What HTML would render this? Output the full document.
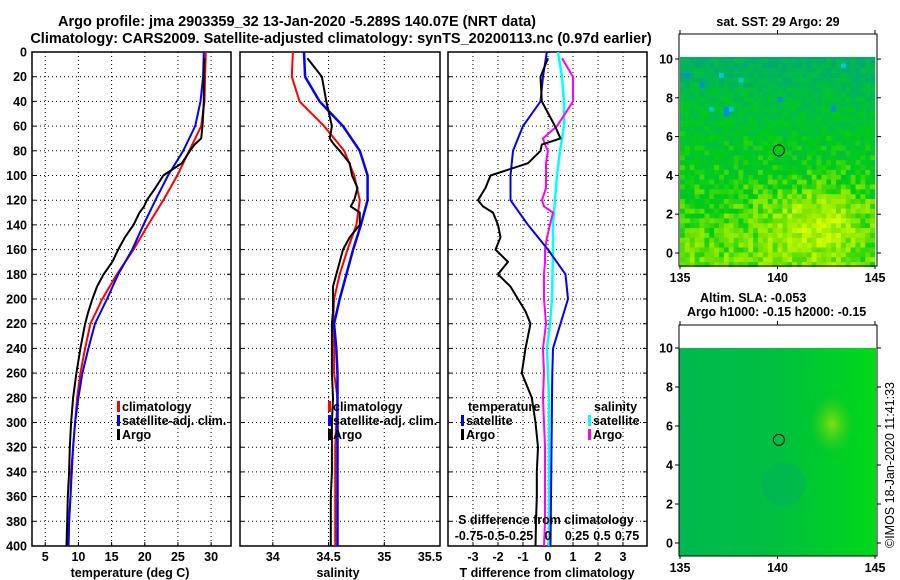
<!DOCTYPE html>
<html><head><meta charset="utf-8">
<style>
html,body{margin:0;padding:0;background:#fff;}
svg{display:block;font-family:"Liberation Sans",Arial,sans-serif;font-weight:bold;}
</style></head>
<body>
<svg id="chart" width="900" height="580" viewBox="0 0 900 580" xmlns="http://www.w3.org/2000/svg">
<text x="297" y="26" font-size="14.5" text-anchor="middle">Argo profile: jma 2903359_32 13-Jan-2020 -5.289S 140.07E (NRT data)</text>
<text x="341" y="43" font-size="14.5" text-anchor="middle">Climatology: CARS2009. Satellite-adjusted climatology: synTS_20200113.nc (0.97d earlier)</text>
<g id="panels"></g>
<g id="maps"></g>
<text font-size="12.5" font-weight="normal" transform="translate(894,465) rotate(-90)" text-anchor="middle">©IMOS 18-Jan-2020 11:41:33</text>
</svg>
<script>
// ---------- data ----------
const stdDepths = [0,20,40,60,80,100,120,140,160,180,200,220,240,260,280,300,320,340,360,380,400];
const tempClim = [29.2,29.1,29.0,28.5,26.7,24.9,22.8,20.5,18.3,15.8,13.6,11.8,11.0,10.3,9.8,9.5,9.2,8.9,8.8,8.6,8.5];
const tempSat  = [28.9,28.8,28.4,27.6,25.8,23.5,21.6,19.8,18.1,16.0,14.3,12.5,11.5,10.6,10.0,9.5,9.2,9.0,8.8,8.6,8.5];
const argoDepths = [5,20,40,60,70,75,80,90,100,110,120,125,130,140,150,160,170,180,190,200,210,220,240,260,280,300,320,340,360,380,400];
const tempArgo = [29.0,28.9,28.9,28.7,28.5,27.5,26.8,25.6,22.8,21.6,20.3,19.9,19.2,18.3,17.0,16.0,15.1,13.8,12.8,12.1,11.5,11.0,10.3,9.7,9.2,8.9,8.7,8.6,8.4,8.3,8.2];
const salClim = [34.18,34.17,34.24,34.46,34.64,34.73,34.78,34.75,34.67,34.60,34.55,34.54,34.55,34.55,34.58,34.57,34.56,34.56,34.56,34.56,34.56];
const salSat  = [34.28,34.29,34.42,34.63,34.78,34.85,34.85,34.79,34.72,34.66,34.60,34.55,34.57,34.58,34.58,34.58,34.58,34.58,34.58,34.58,34.58];
const salArgo = [34.31,34.44,34.48,34.53,34.51,34.55,34.60,34.69,34.71,34.76,34.73,34.70,34.78,34.78,34.69,34.63,34.60,34.57,34.54,34.54,34.54,34.53,34.53,34.53,34.54,34.53,34.53,34.53,34.52,34.52,34.52];
const tdiffArgo = [-0.0,-0.3,-0.25,0.28,0.5,-0.25,-0.3,-0.8,-2.3,-2.5,-2.8,-2.6,-2.2,-2.0,-1.9,-2.1,-1.6,-2.0,-1.5,-1.2,-0.9,-0.7,-0.9,-1.05,-0.65,-0.5,-0.4,-0.45,-0.45,-0.48,-0.5];
const tdiffSat = [-0.05,-0.2,-0.3,-1.0,-1.4,-1.5,-1.5,-0.8,0.0,0.7,0.8,0.5,0.2,0.17,0.16,0.15,0.14,0.13,0.12,0.11,0.1];
const sdiffSat = [0.10,0.14,0.16,0.16,0.12,0.09,0.07,0.05,0.05,0.045,0.04,0.02,-0.01,0.0,0.01,0.01,0.01,0.01,0.01,0.01,0.01];
const sdiffArgo = [0.14,0.25,0.25,0.09,-0.05,-0.03,0.0,-0.02,-0.02,-0.02,-0.06,-0.04,0.05,0.02,-0.01,-0.03,-0.03,-0.04,-0.04,-0.04,-0.03,-0.02,-0.05,-0.04,-0.05,-0.04,-0.03,-0.03,-0.03,-0.03,-0.04];
const depthTicks = [0,20,40,60,80,100,120,140,160,180,200,220,240,260,280,300,320,340,360,380,400];
const tempTicks = [5,10,15,20,25,30];
const salTicks = ["34","34.5","35","35.5"];
const tdTicks = [-3,-2,-1,0,1,2,3];
const sdTickLabels = ["-0.75","-0.5","-0.25","0","0.25","0.5","0.75"];
const latTicks = [0,2,4,6,8,10];
const lonTicks = [135,140,145];

const NS="http://www.w3.org/2000/svg";
function mk(tag,attrs,parent,txt){const e=document.createElementNS(NS,tag);for(const k in attrs)e.setAttribute(k,attrs[k]);if(txt!==undefined)e.textContent=txt;parent.appendChild(e);return e;}
const panels=document.getElementById('panels');
const yTop=52,yBot=546;
const yD=d=>yTop+(d/400)*(yBot-yTop);

function panel(name,x0,x1,v0,v1){
  const g=mk('g',{},panels);
  
  
  const sx=v=>x0+(v-v0)/(v1-v0)*(x1-x0);
  return {g,sx,x0,x1};
}
function frame(p,gridX){
  depthTicks.forEach(d=>{
    if(d>0&&d<400){const l=mk('line',{x1:p.x0,x2:p.x1,y1:yD(d),y2:yD(d),stroke:'#000','stroke-dasharray':'1,3','stroke-width':1},p.g);
    }
    mk('line',{x1:p.x1-4,x2:p.x1,y1:yD(d),y2:yD(d),stroke:'#000'},p.g);
    mk('line',{x1:p.x0,x2:p.x0+4,y1:yD(d),y2:yD(d),stroke:'#000'},p.g);
  });
  gridX.forEach(x=>{const l=mk('line',{x1:x,x2:x,y1:yTop,y2:yBot,stroke:'#000','stroke-dasharray':'1,3'},p.g);
    
    mk('line',{x1:x,x2:x,y1:yBot-4,y2:yBot,stroke:'#000'},p.g);});
  const r=mk('rect',{x:p.x0,y:yTop,width:p.x1-p.x0,height:yBot-yTop,fill:'none',stroke:'#000','stroke-width':1.5},p.g);
  
}
function line(p,vals,depths,color,w,name,sx){
  const f=sx||p.sx;
  const pts=vals.map((v,i)=>f(v).toFixed(1)+','+yD(depths[i]).toFixed(1)).join(' ');
  const l=mk('polyline',{points:pts,fill:'none',stroke:color,'stroke-width':w,'stroke-linejoin':'round'},p.g);
  
}
function label(p,x,y,t,size,anchor,name){
  const e=mk('text',{x:x,y:y,'font-size':size||12,'text-anchor':anchor||'middle'},p.g,t);
  return e;
}
function legend(p,x,y,color,t){
  const r=mk('rect',{x:x,y:y-10,width:3,height:11,fill:color},p.g);
  
  label(p,x+5,y,t,12.5,'start','legend-entry');
}

// depth axis labels
const ya=mk('g',{},panels);


depthTicks.forEach(d=>{const t=mk('text',{x:27,y:yD(d)+4.5,'font-size':12.5,'text-anchor':'end'},ya,String(d));
  });

// panel 1 temperature
const p1=panel('temperature-panel',32,231,3,33);
frame(p1,tempTicks.map(v=>p1.sx(v)));
line(p1,tempClim,stdDepths,'#f00',2,'temp-climatology-line');
line(p1,tempSat,stdDepths,'#00f',2,'temp-satellite-line');
line(p1,tempArgo,argoDepths,'#000',2,'temp-argo-line');
tempTicks.forEach(v=>label(p1,p1.sx(v),561,String(v),12.5,'middle','temp-tick-label'));
label(p1,130,577,'temperature (deg C)',12.5,'middle','x-axis-title-temperature');
legend(p1,117,411,'#f00','climatology');
legend(p1,117,425,'#00f','satellite-adj. clim.');
legend(p1,117,439,'#000','Argo');

// panel 2 salinity
const p2=panel('salinity-panel',240,440,33.7055,35.5);
frame(p2,salTicks.slice(0,3).map(v=>p2.sx(+v)));
line(p2,salClim,stdDepths,'#f00',2,'sal-climatology-line');
line(p2,salSat,stdDepths,'#00f',2.5,'sal-satellite-line');
line(p2,salArgo,argoDepths,'#000',2,'sal-argo-line');
salTicks.forEach(v=>label(p2,Math.min(p2.sx(+v),430),561,v,12.5,'middle','sal-tick-label'));
label(p2,338,577,'salinity',12.5,'middle','x-axis-title-salinity');
legend(p2,328,411,'#f00','climatology');
legend(p2,328,425,'#00f','satellite-adj. clim.');
legend(p2,328,439,'#000','Argo');

// panel 3 differences
const p3=panel('difference-panel',448,647,-4,3.96);
const sxS=v=>548+v*100;
frame(p3,tdTicks.map(v=>p3.sx(v)));
line(p3,sdiffSat,stdDepths,'#0ff',2.5,'sal-diff-satellite-line',sxS);
line(p3,sdiffArgo,argoDepths,'#f0f',2,'sal-diff-argo-line',sxS);
line(p3,tdiffSat,stdDepths,'#00f',2,'temp-diff-satellite-line');
line(p3,tdiffArgo,argoDepths,'#000',2,'temp-diff-argo-line');
tdTicks.forEach(v=>label(p3,p3.sx(v),561,String(v),12.5,'middle','tdiff-tick-label'));
label(p3,547,577,'T difference from climatology',12.5,'middle','x-axis-title-tdiff');
label(p3,546,524,'S difference from climatology',12.5,'middle','s-diff-axis-title');
[-0.75,-0.5,-0.25,0,0.25,0.5,0.75].forEach((v,i)=>label(p3,sxS(v)+(v<0?-4:v>0?4:0),540,sdTickLabels[i],12.5,'middle','sdiff-tick-label'));
label(p3,468,411,'temperature',12.5,'start','legend-heading-temperature');
legend(p3,461,425,'#00f','satellite');
legend(p3,461,439,'#000','Argo');
label(p3,594,411,'salinity',12.5,'start','legend-heading-salinity');
legend(p3,588,425,'#0ff','satellite');
legend(p3,588,439,'#f0f','Argo');

// ---------- maps ----------
const maps=document.getElementById('maps');
function mapFrame(name,fy0,fy1,lat10y,lat0y,dataTop,dataBot){
  const g=mk('g',{},maps);
  
  
  const lx=lon=>680+(lon-135)*19.5;
  const ly=lat=>lat0y+(lat10y-lat0y)*lat/10;
  return {g,lx,ly,fy0,fy1,dataTop,dataBot};
}
function hash(i,j){let h=(i*374761393+j*668265263)^0x5bd1e995;h=(h^(h>>>13))*1274126177;return ((h^(h>>>16))>>>0)/4294967296;}
function sstColor(v){
  const stops=[[0,[0,170,110]],[0.25,[0,190,70]],[0.5,[0,205,20]],[0.72,[130,230,0]],[1,[215,255,0]]];
  v=Math.max(0,Math.min(1,v));
  for(let k=1;k<stops.length;k++){if(v<=stops[k][0]){const a=stops[k-1],b=stops[k],t=(v-a[0])/(b[0]-a[0]);
    return 'rgb('+a[1].map((c,n)=>Math.round(c+(b[1][n]-c)*t)).join(',')+')';}}
}
// top SST map
const m1=mapFrame('sst-map',34,266,59,253);
const cells=mk('g',{},m1.g);


for(let i=0;i<40;i++)for(let j=0;j<44;j++){
  const lon=135+i*0.25,lat=-0.7+j*0.25;
  let v=0.66-0.045*lat+0.3*Math.exp(-((lon-142)**2/8+(lat-1.5)**2/3))-0.1*Math.exp(-((lon-144.5)**2/1+(lat-0.5)**2/2));
  v+= (hash(i,j)-0.5)*0.3;
  if(lat>7) v-=0.05*(lat-7);
  if(hash(j,i)>0.985&&lat>7) v=-0.5;
  let col=sstColor(v); if(v<-0.2) col=hash(i+7,j)>0.5?'#00c8d8':'#0a8ae8';
  mk('rect',{x:m1.lx(lon).toFixed(1),y:m1.ly(lat+0.25).toFixed(1),width:5.2,height:5.2,fill:col},cells);
}
mk('rect',{x:679,y:34,width:198,height:23,fill:'#fff'},m1.g);
mk('rect',{x:679,y:34,width:198,height:232,fill:'none',stroke:'#000'},m1.g);
// bottom SLA map
const m2=mapFrame('sla-map',325,556,348,543);
const defs=mk('defs',{},maps);
const lg=mk('linearGradient',{id:'slag',x1:0,x2:1,y1:0,y2:0},defs);
mk('stop',{offset:0,'stop-color':'#00b850'},lg);mk('stop',{offset:0.5,'stop-color':'#00c040'},lg);mk('stop',{offset:1,'stop-color':'#00d818'},lg);
const rg=mk('radialGradient',{id:'blob'},defs);
mk('stop',{offset:0,'stop-color':'#80e010','stop-opacity':1},rg);mk('stop',{offset:1,'stop-color':'#40d010','stop-opacity':0},rg);
const slaBg=mk('rect',{x:679,y:348,width:197,height:208,fill:'url(#slag)'},m2.g);


mk('ellipse',{cx:m2.lx(142.8),cy:m2.ly(6.1),rx:22,ry:30,fill:'url(#blob)'},m2.g);
mk('ellipse',{cx:m2.lx(140.3),cy:m2.ly(3),rx:22,ry:22,fill:'#00b060','opacity':0.5},m2.g);
mk('rect',{x:679,y:325,width:198,height:231,fill:'none',stroke:'#000'},m2.g);

[m1,m2].forEach((m,mi)=>{
  latTicks.forEach(l=>{
    const t=mk('text',{x:673,y:m.ly(l)+4.5,'font-size':12.5,'text-anchor':'end'},m.g,String(l));
    
    mk('line',{x1:679,x2:675,y1:m.ly(l),y2:m.ly(l),stroke:'#000'},m.g);
    mk('line',{x1:877,x2:881,y1:m.ly(l),y2:m.ly(l),stroke:'#000'},m.g);
  });
  lonTicks.forEach(l=>{
    const t=mk('text',{x:m.lx(l),y:m.fy1+16,'font-size':12.5,'text-anchor':'middle'},m.g,String(l));
    
    mk('line',{x1:m.lx(l),x2:m.lx(l),y1:m.fy0,y2:m.fy0-4,stroke:'#000'},m.g);
    mk('line',{x1:m.lx(l),x2:m.lx(l),y1:m.fy1,y2:m.fy1+3,stroke:'#000'},m.g);
  });
  const c=mk('circle',{cx:m.lx(140.07),cy:m.ly(5.29),r:5.5,fill:'none',stroke:'#000','stroke-width':1},m.g);
  
});
function mt(x,y,t,name,anchor){const e=mk('text',{x:x,y:y,'font-size':12.5,'text-anchor':anchor||'middle'},maps,t);
  }
mt(778,26,'sat. SST: 29 Argo: 29','sst-map-title');
mt(700,302,'Altim. SLA: -0.053','sla-map-title','start');
mt(687,316,'Argo h1000: -0.15 h2000: -0.15','argo-height-title','start');
</script>
</body></html>
